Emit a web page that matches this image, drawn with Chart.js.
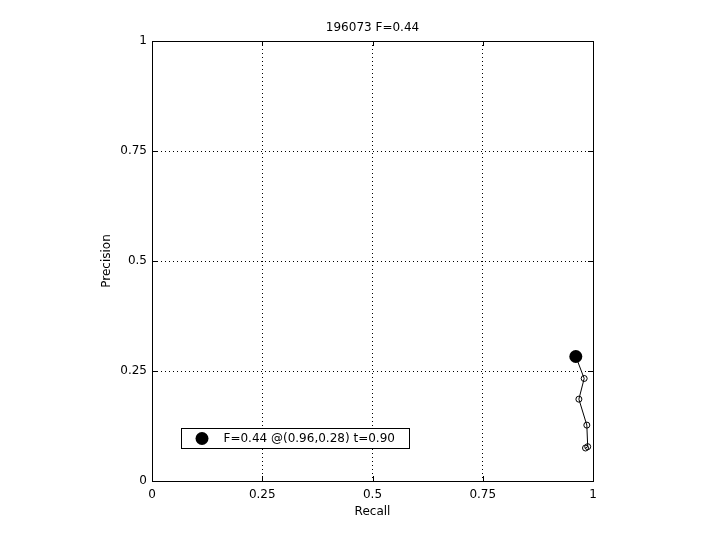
<!DOCTYPE html>
<html>
<head>
<meta charset="utf-8">
<script src="https://cdn.jsdelivr.net/npm/chart.js@4.4.1/dist/chart.umd.min.js"></script>
<style>
  html, body { margin: 0; padding: 0; background: #fff; }
  canvas { display: block; }
</style>
</head>
<body>
<canvas id="prChart" width="720" height="540"></canvas>
<script>
const chartTitle = '196073 F=0.44';
const recall = [0.961, 0.980, 0.968, 0.986, 0.988, 0.983];
const precision = [0.283, 0.233, 0.186, 0.127, 0.078, 0.075];
const bestRecall = [0.961];
const bestPrecision = [0.283];
const bestLabel = 'F=0.44 @(0.96,0.28) t=0.90';
const tickValues = [0, 0.25, 0.5, 0.75, 1];
const tickLabels = ['0', '0.25', '0.5', '0.75', '1'];

Chart.defaults.font.family = 'DejaVu Sans';
Chart.defaults.font.size = 12;
Chart.defaults.color = '#000';

const toPoints = (xs, ys) => xs.map((x, i) => ({ x: x, y: ys[i] }));
const useTicks = scale => { scale.ticks = tickValues.map(v => ({ value: v })); };
const tickText = (v, i) => tickLabels[i];

// box round the axes with small inward ticks, like matlab
const frame = {
  id: 'frame',
  afterDraw(chart) {
    const { ctx, chartArea: a, scales } = chart;
    ctx.save();
    ctx.strokeStyle = '#000';
    ctx.lineWidth = 1;
    ctx.strokeRect(a.left + 0.5, a.top + 0.5, a.right - a.left, a.bottom - a.top);
    ctx.beginPath();
    tickValues.forEach(v => {
      const x = Math.round(scales.x.getPixelForValue(v)) + 0.5;
      const y = Math.round(scales.y.getPixelForValue(v)) + 0.5;
      ctx.moveTo(x, a.bottom); ctx.lineTo(x, a.bottom - 5);
      ctx.moveTo(x, a.top); ctx.lineTo(x, a.top + 5);
      ctx.moveTo(a.left, y); ctx.lineTo(a.left + 5, y);
      ctx.moveTo(a.right, y); ctx.lineTo(a.right - 5, y);
    });
    ctx.stroke();
    ctx.restore();
  }
};

// legend box in the lower left of the plot
const legendBox = {
  id: 'legendBox',
  afterDraw(chart) {
    const { ctx, chartArea: a } = chart;
    const ds = chart.data.datasets[1];
    const x = a.left + 29.5, y = a.bottom - 52.5, w = 228, h = 20;
    ctx.save();
    ctx.fillStyle = '#fff';
    ctx.fillRect(x, y, w, h);
    ctx.strokeStyle = '#000';
    ctx.lineWidth = 1;
    ctx.strokeRect(x, y, w, h);
    ctx.fillStyle = '#000';
    ctx.beginPath();
    ctx.arc(x + 20.5, y + 10, 6.5, 0, Math.PI * 2);
    ctx.fill();
    ctx.font = '12px "DejaVu Sans"';
    ctx.textBaseline = 'middle';
    ctx.fillText(ds.label, x + 42, y + 10.5);
    ctx.restore();
  }
};

const gridOpts = { color: '#000', lineWidth: 1, drawTicks: false };
const borderOpts = { display: true, color: '#000', width: 1, dash: [1, 3] };

new Chart(document.getElementById('prChart'), {
  type: 'line',
  data: {
    datasets: [
      {
        label: 'curve',
        data: toPoints(recall, precision),
        borderColor: '#000',
        borderWidth: 1,
        pointRadius: 3,
        pointBorderWidth: 1,
        pointBorderColor: '#000',
        pointBackgroundColor: 'rgba(0,0,0,0)',
        tension: 0
      },
      {
        label: bestLabel,
        data: toPoints(bestRecall, bestPrecision),
        showLine: false,
        pointRadius: 6.5,
        pointBorderWidth: 0,
        pointBackgroundColor: '#000',
        pointBorderColor: '#000'
      }
    ]
  },
  options: {
    responsive: false,
    animation: false,
    events: [],
    layout: { padding: { left: 0, right: 127, top: 0, bottom: 0 } },
    plugins: {
      legend: { display: false },
      tooltip: { enabled: false },
      title: {
        display: true,
        text: chartTitle,
        fullSize: false,
        color: '#000',
        font: { size: 12, weight: 'normal' },
        padding: { top: 20.5, bottom: 6.1 }
      }
    },
    scales: {
      x: {
        type: 'linear',
        min: 0,
        max: 1,
        afterBuildTicks: useTicks,
        afterFit(scale) { scale.height = 59; },
        grid: gridOpts,
        border: borderOpts,
        ticks: { padding: 7, color: '#000', callback: tickText, maxRotation: 0 },
        title: { display: true, text: 'Recall', color: '#000', padding: { top: 0, bottom: 21 } }
      },
      y: {
        type: 'linear',
        min: 0,
        max: 1,
        afterBuildTicks: useTicks,
        afterFit(scale) { scale.width = 152; },
        grid: gridOpts,
        border: borderOpts,
        ticks: { padding: 5, color: '#000', callback: tickText },
        title: { display: true, text: 'Precision', color: '#000', padding: { top: 100, bottom: 0 } }
      }
    }
  },
  plugins: [frame, legendBox]
});
</script>
</body>
</html>
